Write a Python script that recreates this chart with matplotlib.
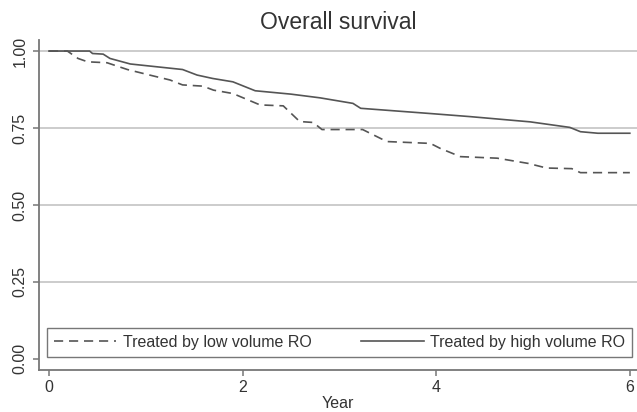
import matplotlib.pyplot as plt

plt.rcParams['font.family'] = ['Liberation Sans', 'DejaVu Sans']

# Kaplan-Meier curves (breakpoints of the drawn outline;
# the many small steps blur into slopes at this size)
t_low = [0, 0.19, 0.30, 0.40, 0.60, 0.81, 1.04, 1.25, 1.38, 1.59, 1.70, 1.90,
         2.18, 2.42, 2.59, 2.73, 2.82, 3.24, 3.49, 3.94, 4.04, 4.25, 4.63, 4.95,
         5.14, 5.40, 5.49, 6.0]
s_low = [1.0, 1.0, 0.976, 0.965, 0.962, 0.940, 0.922, 0.906, 0.89, 0.886, 0.873, 0.862,
         0.825, 0.822, 0.771, 0.768, 0.745, 0.745, 0.706, 0.700, 0.684, 0.657, 0.652, 0.635,
         0.620, 0.618, 0.605, 0.605]

t_high = [0, 0.42, 0.45, 0.56, 0.63, 0.84, 1.38, 1.53, 1.69, 1.90, 2.13, 2.50,
          2.80, 3.14, 3.22, 3.94, 4.35, 4.97, 5.38, 5.49, 5.67, 6.0]
s_high = [1.0, 1.0, 0.992, 0.990, 0.976, 0.958, 0.940, 0.922, 0.911, 0.900, 0.871, 0.860,
          0.848, 0.830, 0.814, 0.797, 0.787, 0.770, 0.752, 0.738, 0.733, 0.733]

labels = ["Treated by low volume RO", "Treated by high volume RO"]
xticks = [0, 2, 4, 6]
yticks = [0.0, 0.25, 0.5, 0.75, 1.0]

line_col = "#555555"
text_col = "#333333"

fig = plt.figure(figsize=(6.37, 4.12), dpi=100)
ax = fig.add_axes([0.0612, 0.102, 0.9388, 0.801])

for y in yticks[1:]:
    ax.axhline(y, color="#c8c8c8", lw=1.3, zorder=0)

ax.plot(t_low, s_low, color=line_col, lw=1.2,
        linestyle=(0, (5.5, 3.5)), label=labels[0])
ax.plot(t_high, s_high, color=line_col, lw=1.2, label=labels[1])

ax.set_xlim(-0.103, 6.074)
ax.set_ylim(-0.036, 1.036)
ax.set_xticks(xticks)
ax.set_yticks(yticks)
ax.set_xticklabels([str(v) for v in xticks])
ax.set_yticklabels(["%.2f" % v for v in yticks], rotation=90, va="center")
ax.tick_params(colors="#777777", labelcolor=text_col, labelsize=11.5, length=4, width=1.1)
ax.tick_params(axis="x", pad=3)
ax.tick_params(axis="y", pad=4)

for side in ["top", "right"]:
    ax.spines[side].set_visible(False)
for side in ["left", "bottom"]:
    ax.spines[side].set_color("#777777")
    ax.spines[side].set_linewidth(1.3)

ax.set_title("Overall survival", fontsize=16.5, color=text_col, pad=8)
ax.set_xlabel("Year", fontsize=11.5, color=text_col, labelpad=1)

leg = ax.legend(loc="lower left", bbox_to_anchor=(0.013, 0.039, 0.979, 0.097),
                mode="expand", ncol=2, fontsize=11.5, frameon=True, fancybox=False,
                handlelength=3.9, handletextpad=0.4, borderaxespad=0, borderpad=0.45,
                labelcolor=text_col)
leg.get_frame().set_edgecolor("#555555")
leg.get_frame().set_linewidth(1.0)

fig.savefig("out.png", dpi=100, facecolor="white")
